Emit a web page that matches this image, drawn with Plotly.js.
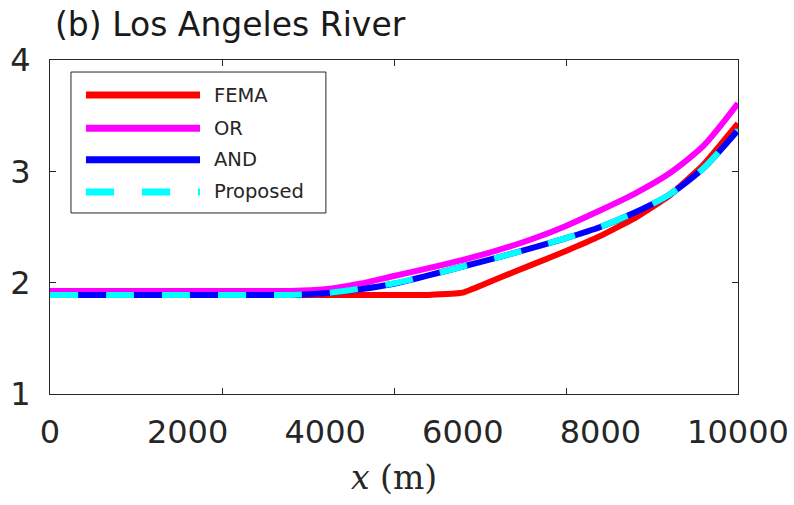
<!DOCTYPE html>
<html>
<head>
<meta charset="utf-8">
<script src="https://cdn.plot.ly/plotly-3.0.1.min.js"></script>
<style>html,body{margin:0;padding:0;background:#fff;}#chart{width:794px;height:505px;}</style>
</head>
<body>
<div id="chart"></div>
<script>
// ---- data ----
const xValues = [0,500,1000,1500,2000,2500,3000,3500,4000,4500,5000,5500,6000,6500,7000,7500,8000,8500,9000,9500,10000];
const femaValues = [1.89,1.89,1.89,1.89,1.89,1.89,1.89,1.89,1.89,1.89,1.89,1.89,1.91,2.035,2.16,2.285,2.42,2.58,2.78,3.06,3.43];
const orValues = [1.925,1.925,1.925,1.925,1.925,1.925,1.925,1.925,1.94,1.99,2.06,2.13,2.205,2.29,2.39,2.51,2.65,2.80,2.98,3.23,3.61];
const andValues = [1.89,1.89,1.89,1.89,1.89,1.89,1.89,1.89,1.905,1.94,1.99,2.065,2.145,2.225,2.31,2.40,2.50,2.63,2.79,3.03,3.37];
const proposedValues = [1.89,1.89,1.89,1.89,1.89,1.89,1.89,1.89,1.905,1.945,1.995,2.065,2.145,2.225,2.31,2.40,2.50,2.63,2.79,3.03,3.37];
const seriesNames = ['FEMA','OR','AND','Proposed'];
const xTickLabelValues = [0,2000,4000,6000,8000,10000];
const xTickMarkValues = [2500,5000,7500];
const yTickValues = [1,2,3,4];
const titleText = '(b) Los Angeles River';
const xTitleText = '<i>x</i> (m)';

// ---- styles ----
const colors = ['#ff0000','#ff00ff','#0000ff','#00ffff'];
const dashes = ['solid','solid','solid','28px,28px'];
const smooth = [0.3, 0.7, 0.7, 0.7];
const seriesValues = [femaValues, orValues, andValues, proposedValues];
const lw = 6;

const traces = seriesValues.map((vals, i) => ({
  type: 'scatter', mode: 'lines', x: xValues, y: vals, name: seriesNames[i],
  line: {color: colors[i], width: lw, dash: dashes[i], shape: 'spline', smoothing: smooth[i]},
  showlegend: false, hoverinfo: 'skip'
}));

// custom legend (long line samples as in the reference)
const legX0 = 0.0305, legX1 = 0.401, legY0 = 0.542, legY1 = 0.964;
const entryY = [0.895, 0.796, 0.701, 0.605];
const shapes = [{type:'rect', xref:'paper', yref:'paper', x0:legX0, x1:legX1, y0:legY0, y1:legY1,
  line:{color:'#262626', width:1}, fillcolor:'#ffffff'}];
const annotations = [];
seriesNames.forEach((n, i) => {
  shapes.push({type:'line', xref:'paper', yref:'paper', x0:0.0523, x1:0.218, y0:entryY[i], y1:entryY[i],
    line:{color:colors[i], width:7, dash: dashes[i]}});
  annotations.push({xref:'paper', yref:'paper', x:0.2355, y:entryY[i], xanchor:'left', yanchor:'middle',
    text:n, showarrow:false, font:{family:'DejaVu Sans, Arial', size:19.5, color:'#262626'}});
});

const axisColor = '#262626';
const layout = {
  width: 794, height: 505,
  margin: {l: 50, r: 56, t: 60, b: 111},
  paper_bgcolor: '#ffffff', plot_bgcolor: '#ffffff',
  showlegend: false,
  title: {text: titleText, x: 55/794, xanchor: 'left', xref: 'container', y: 1 - 24/505, yref: 'container', yanchor: 'middle',
    font: {family: 'DejaVu Sans, Arial', size: 33, color: '#1a1a1a'}},
  xaxis: {
    range: [0, 10000], tickvals: xTickLabelValues, ticktext: xTickLabelValues.map(String),
    ticks: '', showgrid: false, zeroline: false,
    showline: true, linecolor: axisColor, linewidth: 1, mirror: 'ticks',
    minor: {tickvals: xTickMarkValues, ticks: 'inside', ticklen: 6, tickcolor: axisColor, tickwidth: 1, showgrid: false},
    tickfont: {family: 'DejaVu Sans, Arial', size: 32, color: '#262626'},
    ticklabelstandoff: 10,
    title: {text: xTitleText, font: {family: 'DejaVu Serif, Liberation Serif, serif', size: 33, color: '#262626'}, standoff: 15}
  },
  yaxis: {
    range: [1, 4], tickvals: yTickValues, ticktext: yTickValues.map(String),
    ticks: 'inside', ticklen: 6, tickcolor: axisColor, tickwidth: 1,
    showgrid: false, zeroline: false,
    showline: true, linecolor: axisColor, linewidth: 1, mirror: 'ticks',
    tickfont: {family: 'DejaVu Sans, Arial', size: 32, color: '#262626'},
    ticklabelstandoff: 12
  },
  shapes: shapes,
  annotations: annotations
};

Plotly.newPlot('chart', traces, layout, {displayModeBar: false, staticPlot: true});
</script>
</body>
</html>
